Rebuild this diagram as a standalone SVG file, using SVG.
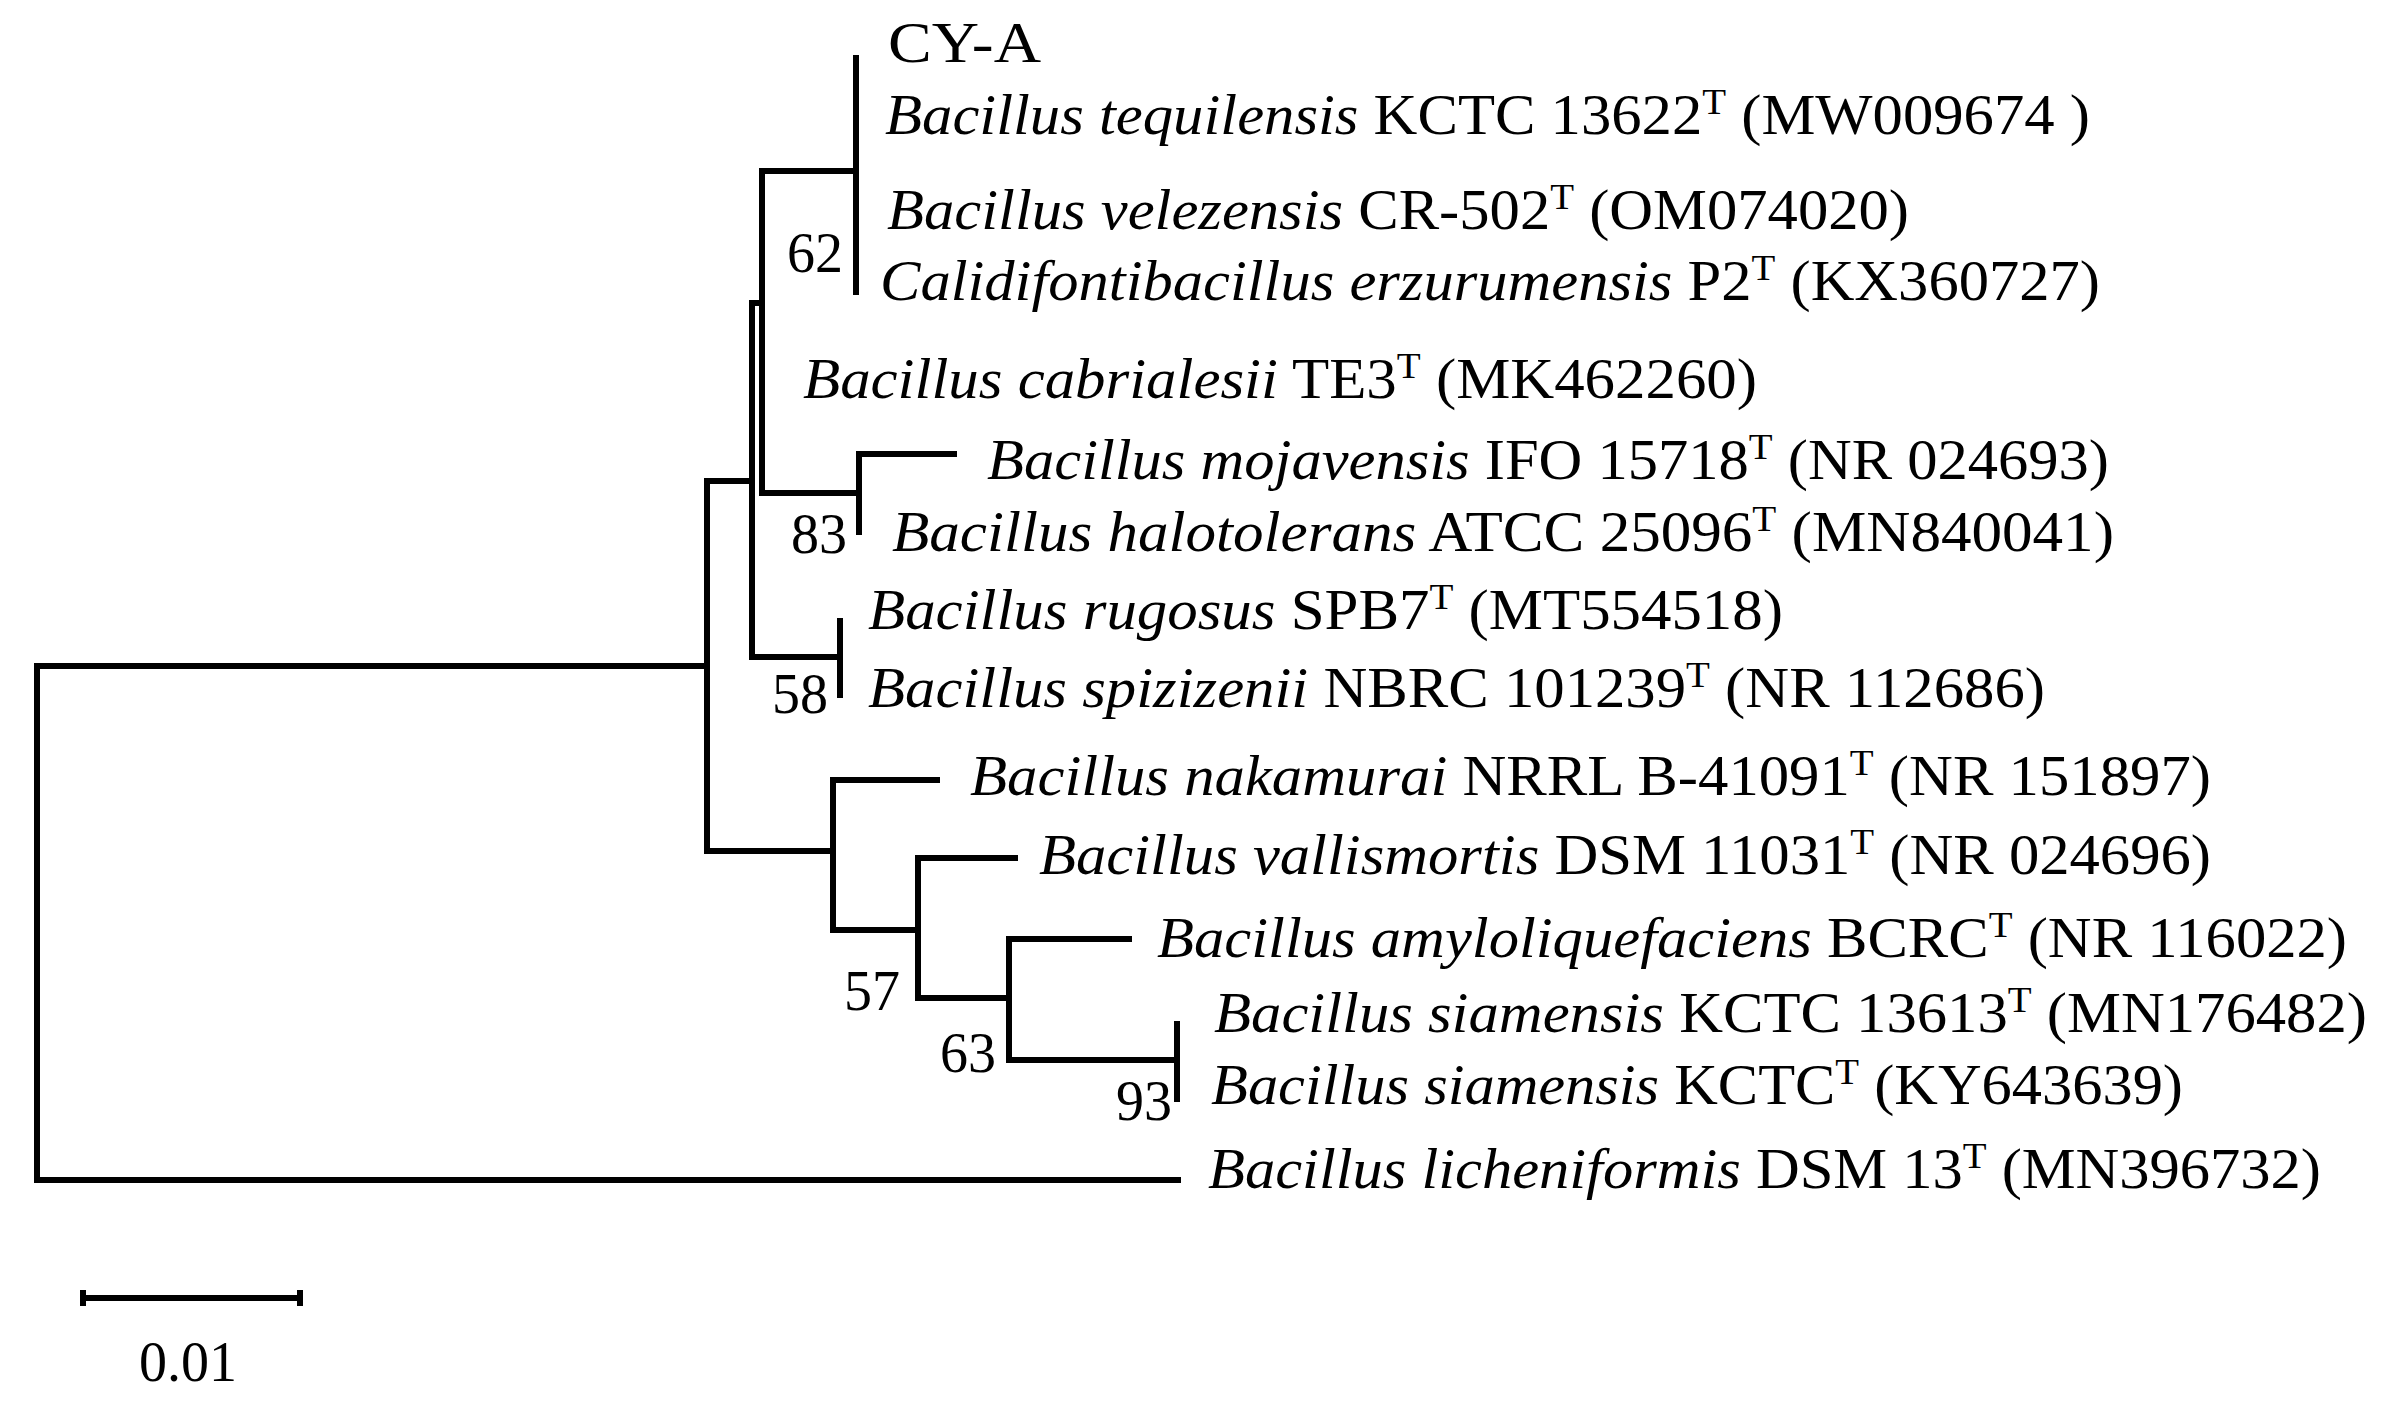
<svg xmlns="http://www.w3.org/2000/svg" width="2400" height="1417" viewBox="0 0 2400 1417">
<style>
  .br { fill: none; stroke: #000; stroke-width: 6; stroke-linejoin: miter; stroke-linecap: butt; }
  .lab { font-family: "Liberation Serif", "Times New Roman", serif; font-size: 56px; fill: #000; }
  .it { font-style: italic; }
  .sup { font-size: 36px; }
  .bs { font-family: "Liberation Serif", "Times New Roman", serif; font-size: 56px; fill: #000; text-anchor: end; }
</style>
<rect width="2400" height="1417" fill="#fff"/>
<g id="connectors">
  <path class="br" d="M706 666 H37 V1180 H1181"/>
  <path class="br" d="M752 481 H707 V851 H833"/>
  <path class="br" d="M762 303 H752 V657 H840"/>
  <path class="br" d="M856 171 H762 V493 H859"/>
  <path class="br" d="M856 55 V295"/>
  <path class="br" d="M957 454 H859 V535"/>
  <path class="br" d="M840 618 V698"/>
  <path class="br" d="M940 780 H833 V930 H918"/>
  <path class="br" d="M1018 858 H918 V998 H1009"/>
  <path class="br" d="M1132 939 H1009 V1060 H1177"/>
  <path class="br" d="M1177 1021 V1102"/>
</g>
<g id="bootstrap">
  <text class="bs" x="843" y="272">62</text>
  <text class="bs" x="847" y="553">83</text>
  <text class="bs" x="828" y="713">58</text>
  <text class="bs" x="900" y="1010">57</text>
  <text class="bs" x="996" y="1072">63</text>
  <text class="bs" x="1172" y="1120">93</text>
</g>
<g id="leaf-cya"><text class="lab" x="888" y="62" textLength="153" lengthAdjust="spacingAndGlyphs">CY-A</text></g>
<g id="leaf-tequilensis"><text class="lab" x="885" y="134" textLength="1205" lengthAdjust="spacingAndGlyphs"><tspan class="it">Bacillus tequilensis</tspan> KCTC 13622<tspan class="sup" dy="-20">T</tspan><tspan dy="20"> (MW009674 )</tspan></text></g>
<g id="leaf-velezensis"><text class="lab" x="887" y="229" textLength="1022" lengthAdjust="spacingAndGlyphs"><tspan class="it">Bacillus velezensis</tspan> CR-502<tspan class="sup" dy="-20">T</tspan><tspan dy="20"> (OM074020)</tspan></text></g>
<g id="leaf-erzurumensis"><text class="lab" x="880" y="300" textLength="1220" lengthAdjust="spacingAndGlyphs"><tspan class="it">Calidifontibacillus erzurumensis</tspan> P2<tspan class="sup" dy="-20">T</tspan><tspan dy="20"> (KX360727)</tspan></text></g>
<g id="leaf-cabrialesii"><text class="lab" x="803" y="398" textLength="954" lengthAdjust="spacingAndGlyphs"><tspan class="it">Bacillus cabrialesii</tspan> TE3<tspan class="sup" dy="-20">T</tspan><tspan dy="20"> (MK462260)</tspan></text></g>
<g id="leaf-mojavensis"><text class="lab" x="987" y="479" textLength="1122" lengthAdjust="spacingAndGlyphs"><tspan class="it">Bacillus mojavensis</tspan> IFO 15718<tspan class="sup" dy="-20">T</tspan><tspan dy="20"> (NR 024693)</tspan></text></g>
<g id="leaf-halotolerans"><text class="lab" x="892" y="551" textLength="1222" lengthAdjust="spacingAndGlyphs"><tspan class="it">Bacillus halotolerans</tspan> ATCC 25096<tspan class="sup" dy="-20">T</tspan><tspan dy="20"> (MN840041)</tspan></text></g>
<g id="leaf-rugosus"><text class="lab" x="868" y="629" textLength="915" lengthAdjust="spacingAndGlyphs"><tspan class="it">Bacillus rugosus</tspan> SPB7<tspan class="sup" dy="-20">T</tspan><tspan dy="20"> (MT554518)</tspan></text></g>
<g id="leaf-spizizenii"><text class="lab" x="868" y="707" textLength="1177" lengthAdjust="spacingAndGlyphs"><tspan class="it">Bacillus spizizenii</tspan> NBRC 101239<tspan class="sup" dy="-20">T</tspan><tspan dy="20"> (NR 112686)</tspan></text></g>
<g id="leaf-nakamurai"><text class="lab" x="970" y="795" textLength="1241" lengthAdjust="spacingAndGlyphs"><tspan class="it">Bacillus nakamurai</tspan> NRRL B-41091<tspan class="sup" dy="-20">T</tspan><tspan dy="20"> (NR 151897)</tspan></text></g>
<g id="leaf-vallismortis"><text class="lab" x="1039" y="874" textLength="1172" lengthAdjust="spacingAndGlyphs"><tspan class="it">Bacillus vallismortis</tspan> DSM 11031<tspan class="sup" dy="-20">T</tspan><tspan dy="20"> (NR 024696)</tspan></text></g>
<g id="leaf-amyloliquefaciens"><text class="lab" x="1157" y="957" textLength="1190" lengthAdjust="spacingAndGlyphs"><tspan class="it">Bacillus amyloliquefaciens</tspan> BCRC<tspan class="sup" dy="-20">T</tspan><tspan dy="20"> (NR 116022)</tspan></text></g>
<g id="leaf-siamensis-1"><text class="lab" x="1214" y="1032" textLength="1153" lengthAdjust="spacingAndGlyphs"><tspan class="it">Bacillus siamensis</tspan> KCTC 13613<tspan class="sup" dy="-20">T</tspan><tspan dy="20"> (MN176482)</tspan></text></g>
<g id="leaf-siamensis-2"><text class="lab" x="1211" y="1104" textLength="972" lengthAdjust="spacingAndGlyphs"><tspan class="it">Bacillus siamensis</tspan> KCTC<tspan class="sup" dy="-20">T</tspan><tspan dy="20"> (KY643639)</tspan></text></g>
<g id="leaf-licheniformis"><text class="lab" x="1208" y="1188" textLength="1113" lengthAdjust="spacingAndGlyphs"><tspan class="it">Bacillus licheniformis</tspan> DSM 13<tspan class="sup" dy="-20">T</tspan><tspan dy="20"> (MN396732)</tspan></text></g>
<g id="scale-bar">
  <path class="br" d="M83 1298 H300"/>
  <path class="br" d="M83 1290 V1306 M300 1290 V1306"/>
  <text class="lab" x="139" y="1381">0.01</text>
</g>
</svg>
